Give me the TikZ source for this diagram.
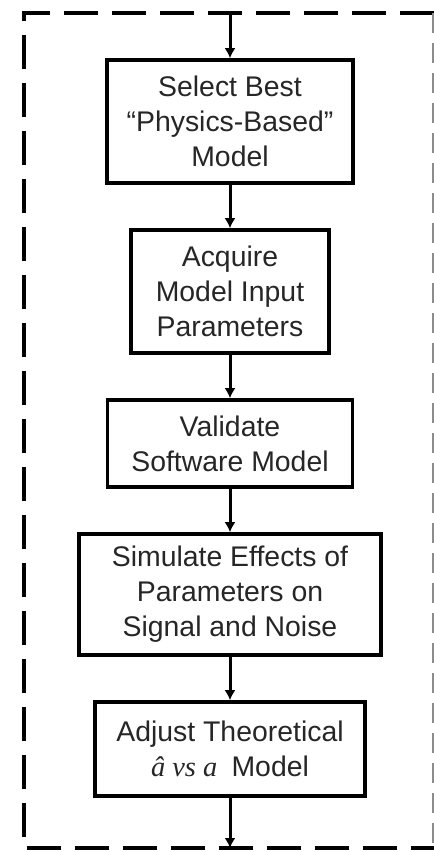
\documentclass[tikz,border=0pt]{standalone}
\usepackage{fontspec}
\setmainfont{Liberation Sans}
\newfontfamily\serifit{Liberation Serif}
\usetikzlibrary{positioning,arrows.meta}

\begin{document}
\begin{tikzpicture}
\tikzstyle{main}=[rectangle, draw=black, line width=1.8pt, align=center, inner sep=0pt, text=black!85, font=\fontsize{14.2}{17.5}\selectfont, node distance = 21.7pt]
\tikzstyle{connect}=[-{Latex[length=5pt,width=5.5pt]}, line width=1.5pt]
\tikzstyle{frame}=[line width=2pt, dash pattern=on 17pt off 7pt]
\useasboundingbox (0,0) rectangle (217pt,-426pt);
\coordinate (TopRight) at (217pt,-6.5pt);
\coordinate (TopLeft) at (12pt,-6.5pt);
\coordinate (BottomLeft) at (12pt,-424pt);
\coordinate (BottomRight) at (217pt,-424pt);
\draw[frame] (TopRight) -- (TopLeft) -- (BottomLeft) -- (BottomRight);
\draw[black!45, line width=0.6pt, dash pattern=on 10pt off 5pt] (216.5pt,-6.5pt) -- (216.5pt,-424pt);
\node[main, minimum width=123pt, minimum height=61.5pt] (Select) at (115pt,-60.75pt) {Select Best\\``Physics-Based''\\Model};
\node[main, minimum width=99pt, minimum height=61.5pt] (Acquire) [below=of Select] {Acquire\\Model Input\\Parameters};
\node[main, minimum width=122.5pt, minimum height=43.5pt] (Validate) [below=of Acquire] {Validate\\Software Model};
\node[main, minimum width=151pt, minimum height=60.5pt] (Simulate) [below=of Validate] {Simulate Effects of\\Parameters on\\Signal and Noise};
\node[main, minimum width=135pt, minimum height=47pt] (Adjust) [below=of Simulate] {Adjust Theoretical\\{\serifit\itshape â vs a}\enspace Model};
\coordinate (In) at (Select.north |- TopLeft);
\coordinate (Out) at (Adjust.south |- BottomLeft);
  \path (In) edge [connect] (Select)
  	(Select) edge [connect] (Acquire)
  	(Acquire) edge [connect] (Validate)
  	(Validate) edge [connect] (Simulate)
  	(Simulate) edge [connect] (Adjust)
  	(Adjust) edge [connect] (Out);
\end{tikzpicture}
\end{document}
